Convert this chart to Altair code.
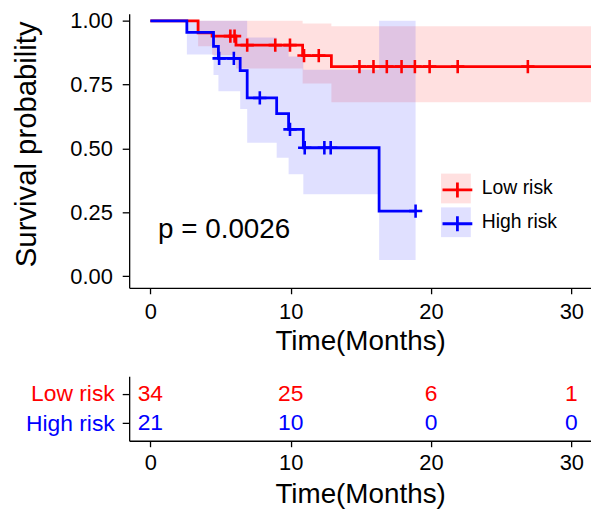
import altair as alt
import pandas as pd

FONT = "Liberation Sans"

# ---------------- data ----------------
groups = ["Low risk", "High risk"]
colors = ["#FF0000", "#0000FF"]

# Kaplan-Meier steps (time in months, survival, CI lower, CI upper)
low_time = [0, 3.4, 4.4, 6.1, 10.85, 12.9, 31.5]
low_surv = [1.0, 0.953, 0.94, 0.905, 0.864, 0.821, 0.821]
low_lower = [1.0, 0.90, 0.866, 0.813, 0.755, 0.681, 0.681]
low_upper = [1.0, 1.0, 1.0, 1.0, 0.99, 0.979, 0.979]
low_censor = [5.7, 6.0, 6.9, 8.9, 9.95, 10.95, 12.0, 14.9, 15.9, 16.85,
              17.9, 18.85, 19.9, 21.9, 26.9]

high_time = [0, 2.6, 4.5, 4.85, 6.4, 6.9, 9.0, 9.85, 10.9, 16.3, 18.9]
high_surv = [1.0, 0.955, 0.90, 0.853, 0.805, 0.698, 0.637, 0.575, 0.503, 0.255, 0.255]
high_lower = [1.0, 0.868, 0.788, 0.724, 0.655, 0.523, 0.464, 0.399, 0.321, 0.063, 0.063]
high_upper = [1.0, 1.0, 1.0, 1.0, 1.0, 0.935, 0.90, 0.86, 0.808, 1.0, 1.0]
high_censor = [4.9, 5.95, 7.8, 9.95, 11.0, 12.4, 12.85, 18.9]

risk_times = [0, 10, 20, 30]
risk_low = [34, 25, 6, 1]
risk_high = [21, 10, 0, 0]

p_label = "p = 0.0026"
p_pos = [0.55, 0.148]

x_ticks = [0, 10, 20, 30]
y_ticks = [0, 0.25, 0.5, 0.75, 1.0]


# ---------------- tables built from the arrays ----------------
def step_at(times, surv, t):
    val = surv[0]
    for ti, si in zip(times, surv):
        if ti <= t:
            val = si
    return val


band_rows, line_rows, cens_rows = [], [], []
for g, T, S, L, U, C in [
    ("Low risk", low_time, low_surv, low_lower, low_upper, low_censor),
    ("High risk", high_time, high_surv, high_lower, high_upper, high_censor),
]:
    for t, s, lo, up in zip(T, S, L, U):
        band_rows.append({"group": g, "time": t, "lower": lo, "upper": up})
        line_rows.append({"group": g, "time": t, "surv": s})
    for c in C:
        cens_rows.append({"group": g, "time": c, "surv": step_at(T, S, c)})

band_df = pd.DataFrame(band_rows)
line_df = pd.DataFrame(line_rows)
cens_df = pd.DataFrame(cens_rows)
p_df = pd.DataFrame({"x": [p_pos[0]], "y": [p_pos[1]], "label": [p_label]})

risk_df = pd.DataFrame(
    [{"group": "Low risk", "time": t, "n": str(n)} for t, n in zip(risk_times, risk_low)]
    + [{"group": "High risk", "time": t, "n": str(n)} for t, n in zip(risk_times, risk_high)]
)

# ---------------- scales / axes ----------------
x_scale = alt.Scale(domain=[-1.51, 31.4], nice=False, zero=False)
y_scale = alt.Scale(domain=[-0.0455, 1.028], nice=False, zero=False)

common_axis = dict(
    grid=False, domainColor="black", domainWidth=1.3, tickColor="black",
    tickWidth=1.3, labelColor="black", labelFont=FONT, titleFont=FONT,
    titleColor="black", titleFontWeight="normal",
)

x_axis = alt.Axis(values=x_ticks, title="Time(Months)", labelFontSize=22,
                  titleFontSize=28, tickSize=6, labelPadding=8, titlePadding=5,
                  **common_axis)
y_axis = alt.Axis(values=y_ticks, format=".2f", title="Survival probability",
                  labelFontSize=22, titleFontSize=29.5, tickSize=7, labelPadding=10,
                  titleX=-103, titleY=131, titleBaseline="middle", **common_axis)

legend_common = dict(orient="none", legendX=314, legendY=161, title=None,
                     symbolSize=900, labelFontSize=19.5, labelFont=FONT,
                     labelOffset=11, rowPadding=4, padding=0)

bands = alt.Chart(band_df).mark_area(
    interpolate="step-after", opacity=0.12, clip=True
).encode(
    x=alt.X("time:Q", scale=x_scale, axis=x_axis),
    y=alt.Y("lower:Q", scale=y_scale, axis=y_axis),
    y2="upper:Q",
    fill=alt.Fill("group:N", sort=groups, scale=alt.Scale(range=colors),
                  legend=alt.Legend(symbolType="square", symbolOpacity=0.12,
                                    symbolStrokeWidth=0, labelColor="black",
                                    **legend_common)),
)

color_enc = alt.Color(
    "group:N", scale=alt.Scale(domain=groups, range=colors),
    legend=alt.Legend(symbolType="M-1,0H1M0,-0.5V0.5", symbolStrokeWidth=2.8,
                      symbolFillColor="transparent", labelExpr="''",
                      **legend_common),
)

lines = alt.Chart(line_df).mark_line(
    interpolate="step-after", strokeWidth=2.8, clip=True
).encode(
    x=alt.X("time:Q", scale=x_scale),
    y=alt.Y("surv:Q", scale=y_scale),
    color=color_enc,
)

censors = alt.Chart(cens_df).mark_point(
    shape="M-1,0H1M0,-1V1", size=180, strokeWidth=2.6, filled=False, opacity=1,
    clip=True
).encode(
    x=alt.X("time:Q", scale=x_scale),
    y=alt.Y("surv:Q", scale=y_scale),
    color=color_enc,
)

ptext = alt.Chart(p_df).mark_text(
    align="left", baseline="alphabetic", fontSize=28, font=FONT, color="black"
).encode(
    x=alt.X("x:Q", scale=x_scale),
    y=alt.Y("y:Q", scale=y_scale),
    text="label:N",
)

no_border = alt.ViewBackground(stroke="transparent", strokeWidth=0)

top = alt.layer(bands, lines, censors, ptext).properties(
    width=465, height=276, view=no_border
)

# ---------------- risk table ----------------
tx_axis = alt.Axis(values=x_ticks, title="Time(Months)", labelFontSize=22,
                   titleFontSize=28, tickSize=6, labelPadding=6, titlePadding=7,
                   **common_axis)
ty_axis = alt.Axis(
    title=None, labelFontSize=23, tickSize=7, labelPadding=8,
    labelColor={"condition": {"test": "datum.value === 'Low risk'", "value": colors[0]},
                "value": colors[1]},
    grid=False, domainColor="black", domainWidth=1.3, tickColor="black",
    tickWidth=1.3, labelFont=FONT,
)
ty_scale = alt.Scale(type="point", padding=0.6, domain=groups)

table_layers = []
for g, col in zip(groups, colors):
    table_layers.append(
        alt.Chart(risk_df).transform_filter(alt.datum.group == g).mark_text(
            fontSize=23, font=FONT, color=col, baseline="middle"
        ).encode(
            x=alt.X("time:Q", scale=x_scale, axis=tx_axis),
            y=alt.Y("group:N", scale=ty_scale, axis=ty_axis),
            text="n:N",
        )
    )
table = alt.layer(*table_layers).properties(width=465, height=65, view=no_border)

chart = alt.vconcat(top, table, spacing=21).properties(
    padding={"left": 3, "top": 0, "right": 0, "bottom": 0}
).configure_view(stroke="transparent", strokeWidth=0).configure(
    font=FONT, background="white"
)

chart.save("out.html", embed_options={"renderer": "svg", "actions": False})
